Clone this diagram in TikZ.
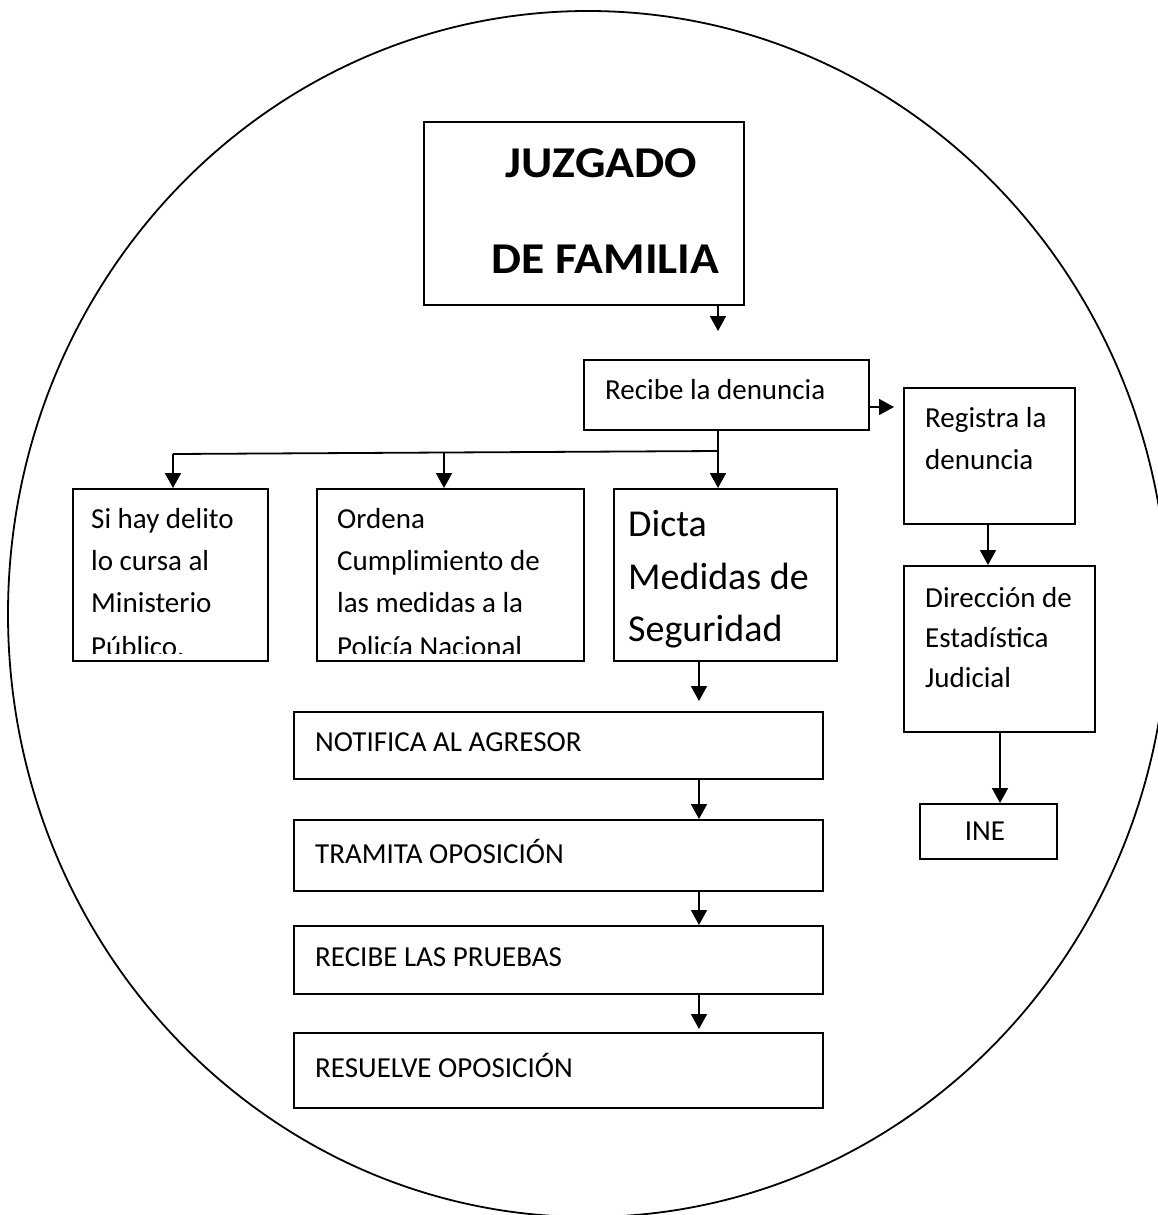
\documentclass[tikz,border=0pt]{standalone}
\usepackage{fontspec}
\usepackage{graphicx}
\setmainfont{Carlito}
\usetikzlibrary{arrows.meta}
\begin{document}
\begin{tikzpicture}[x=1pt,y=-1pt,
  box/.style={draw, line width=1.7pt, inner sep=0pt, anchor=north west},
  txt/.style={inner sep=0pt, anchor=base west, font=\fontsize{29}{35}\selectfont},
  bigtxt/.style={inner sep=0pt, anchor=base west, font=\fontsize{38}{46}\selectfont},
  ttl/.style={inner sep=0pt, anchor=base, font=\fontsize{44}{52}\selectfont\bfseries},
  arr/.style={line width=1.8pt, -{Triangle[width=16pt,length=15pt]}},
  ln/.style={line width=1.8pt}]
\useasboundingbox (0,0) rectangle (1158,1215);
\clip (0,0) rectangle (1158,1215);
\fill[white] (0,0) rectangle (1158,1215);
\draw[line width=1.8pt] (588,614) ellipse [x radius=580, y radius=603];

% boxes
\node[box, minimum width=320, minimum height=183] (jf) at (423,121) {};
\node[box, minimum width=285, minimum height=70] (rec) at (583,359) {};
\node[box, minimum width=171, minimum height=136] (reg) at (903,387) {};
\node[box, minimum width=191, minimum height=166] (dir) at (903,565) {};
\node[box, minimum width=137, minimum height=55] (ine) at (919,803) {};
\node[box, minimum width=195, minimum height=172] (b1) at (72,488) {};
\node[box, minimum width=267, minimum height=172] (b2) at (316,488) {};
\node[box, minimum width=223, minimum height=172] (dic) at (613,488) {};
\node[box, minimum width=529, minimum height=67] (n1) at (293,711) {};
\node[box, minimum width=529, minimum height=71] (n2) at (293,819) {};
\node[box, minimum width=529, minimum height=68] (n3) at (293,925) {};
\node[box, minimum width=529, minimum height=75] (n4) at (293,1032) {};

% texts
\node[ttl] (jf1) at (601.5,177) {\scalebox{1.09}[1]{JUZGADO}};
\node[ttl] (jf2) at (605.5,273) {\scalebox{1.08}[1]{DE FAMILIA}};
\node[txt] (rect) at (605,399) {Recibe la denuncia};
\node[txt] (reg1) at (925,427) {Registra la};
\node[txt] (reg2) at (925,469) {denuncia};
\node[txt] (dir1) at (925,607) {Dirección de};
\node[txt] (dir2) at (925,647) {Estadística};
\node[txt] (dir3) at (925,687) {Judicial};
\node[txt, anchor=base] (inet) at (985,840) {INE};
\begin{scope}
\clip (b1.north west) rectangle ([yshift=8pt]b1.south east);
\node[txt] (b1a) at (91,528) {Si hay delito};
\node[txt] (b1b) at (91,570) {lo cursa al};
\node[txt] (b1c) at (91,612) {Ministerio};
\node[txt] (b1d) at (91,656) {Público.};
\end{scope}
\begin{scope}
\clip (b2.north west) rectangle ([yshift=8pt]b2.south east);
\node[txt] (b2a) at (337,528) {Ordena};
\node[txt] (b2b) at (337,570) {Cumplimiento de};
\node[txt] (b2c) at (337,612) {las medidas a la};
\node[txt] (b2d) at (337,656) {Policía Nacional};
\end{scope}
\node[bigtxt] (dic1) at (628,536) {Dicta};
\node[bigtxt] (dic2) at (628,589) {Medidas de};
\node[bigtxt] (dic3) at (628,641) {Seguridad};
\node[txt] (n1t) at (315,751) {NOTIFICA AL AGRESOR};
\node[txt] (n2t) at (315,863) {TRAMITA OPOSICIÓN};
\node[txt] (n3t) at (315,966) {RECIBE LAS PRUEBAS};
\node[txt] (n4t) at (315,1077) {RESUELVE OPOSICIÓN};

% connectors
\coordinate (x718) at (718,0);
\coordinate (x699) at (699,0);
\coordinate (x988) at (988,0);
\coordinate (x1000) at (1000,0);
\coordinate (a1) at (718,331);
\coordinate (a2) at (894,407);
\coordinate (a3) at (699,701);
\coordinate (a4) at (699,1029);
\coordinate (br) at (718,451);
\coordinate (bl) at (173,454);
\coordinate (bm) at (444,452.5);
\draw[arr] (jf.south -| a1) -- (a1);
\draw[arr] (rec.east |- a2) -- (a2);
\draw[arr] (rec.south -| x718) -- (dic.north -| x718);
\draw[ln] (br) -- (bl);
\draw[arr] (bl) -- (b1.north -| bl);
\draw[arr] (bm) -- (b2.north -| bm);
\draw[arr] (reg.south -| x988) -- (dir.north -| x988);
\draw[arr] (dir.south -| x1000) -- (ine.north -| x1000);
\draw[arr] (dic.south -| x699) -- (a3);
\draw[arr] (n1.south -| x699) -- (n2.north -| x699);
\draw[arr] (n2.south -| x699) -- (n3.north -| x699);
\draw[arr] (n3.south -| x699) -- (a4);
\end{tikzpicture}
\end{document}
